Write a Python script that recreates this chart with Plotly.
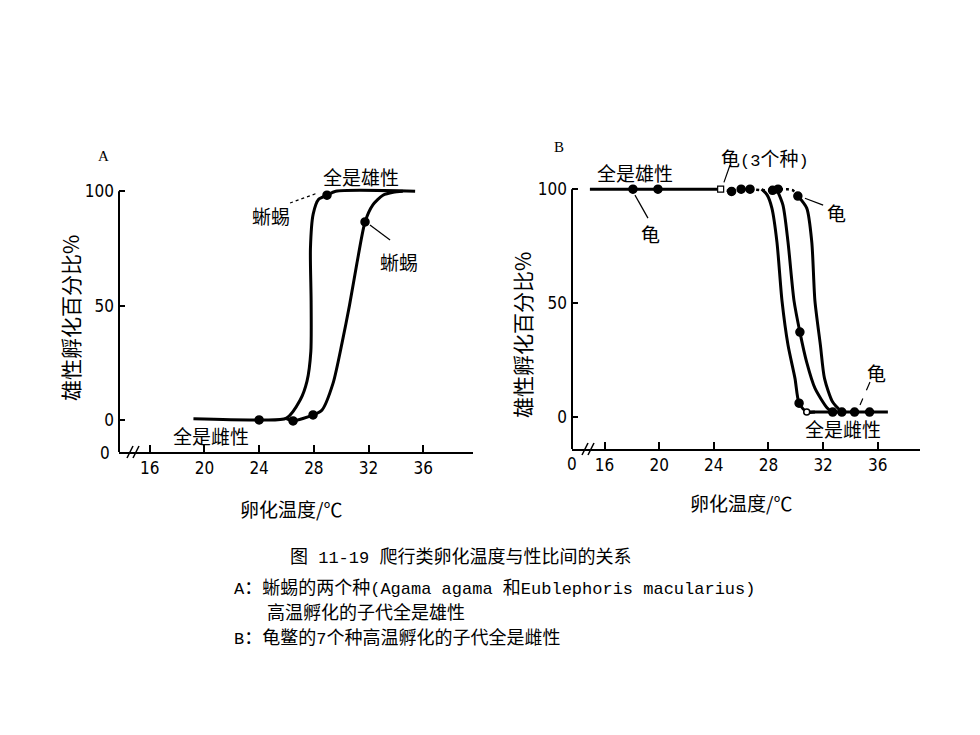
import plotly.graph_objects as go

# page is 980x735; plotly div sits at the default 8px body margin
OFF = 8
FW, FH = 980 - 2 * OFF, 735 - 2 * OFF

# ---------------- data ----------------
x_ticks = [16, 20, 24, 28, 32, 36]
y_ticks = [0, 50, 100]

# Panel A (lizards)
a_c1_T = [19.2, 24.0, 26.0, 27.0, 27.5, 27.78, 27.8, 27.75, 27.95, 28.35, 28.96, 29.6, 35.4]
a_c1_v = [0.5, 0.0, 0.8, 8.7, 17.0, 30.0, 52.0, 75.0, 90.0, 96.5, 98.3, 100, 100]
a_c2_T = [26.0, 26.48, 27.94, 28.6, 29.4, 30.06, 30.6, 31.15, 31.74, 32.3, 33.05, 33.8, 34.5]
a_c2_v = [0.6, -0.4, 2.2, 4.4, 16.0, 33.7, 50.0, 68.6, 86.6, 94.0, 98.3, 99.6, 100]
a_dot_T = [24.0, 26.48, 27.94, 28.96, 31.74]
a_dot_v = [0.0, -0.4, 2.2, 98.3, 86.6]

# Panel B (turtles)
b_top_T = [14.93, 24.5]
b_top_v = [100, 100]
b_mid_T = [24.5, 25.3, 26.0, 26.65, 27.5, 28.3, 28.7, 29.4, 29.8, 30.15]
b_mid_v = [100, 99.0, 100, 100, 99.5, 99.5, 100, 100, 99.5, 97.0]
b_c1_T = [27.5, 27.9, 28.25, 28.62, 28.99, 29.43, 29.94, 30.24, 30.8, 31.4]
b_c1_v = [100, 97.5, 91.7, 76.8, 51.0, 31.6, 17.0, 6.1, 2.2, 2.2]
b_c2_T = [28.6, 29.06, 29.43, 29.87, 30.3, 30.8, 31.4, 32.3, 32.7]
b_c2_v = [100, 93.0, 76.8, 51.0, 37.3, 24.0, 12.7, 4.0, 2.2]
b_c3_T = [30.15, 30.8, 31.17, 31.4, 31.8, 32.1, 32.7, 33.37]
b_c3_v = [97.0, 91.7, 76.8, 51.0, 31.6, 17.0, 6.6, 2.2]
b_floor_T = [30.8, 36.74]
b_floor_v = [2.2, 2.2]
b_dot_T = [18.08, 19.91, 25.3, 26.0, 26.65, 28.3, 28.7, 30.15, 30.24, 30.3, 32.7, 33.37, 34.3, 35.4]
b_dot_v = [100, 100, 99.0, 100, 100, 99.5, 100, 97.0, 6.1, 37.3, 2.2, 2.2, 2.2, 2.2]
b_open_sq_T = [24.5]
b_open_sq_v = [100]
b_open_c_T = [30.8]
b_open_c_v = [2.2]


def PX(x):
    return (x - OFF) / FW


def PY(y):
    return 1 - (y - OFF) / FH


def P(x, y):
    return PX(x), PY(y)


# ---------------- layout geometry (page pixels) ----------------
A_DX = (PX(119), PX(473)); A_RX = (13.76, 39.63)
A_DY = (PY(452), PY(157)); A_RY = (-14, 115)
B_DX = (PX(572), PX(920)); B_RX = (13.62, 39.09)
B_DY = (PY(449), PY(155)); B_RY = (-14, 115)


def to_paper(panel, T, v):
    dx, rx, dy, ry = (A_DX, A_RX, A_DY, A_RY) if panel == "A" else (B_DX, B_RX, B_DY, B_RY)
    px_ = dx[0] + (T - rx[0]) / (rx[1] - rx[0]) * (dx[1] - dx[0])
    py_ = dy[0] + (v - ry[0]) / (ry[1] - ry[0]) * (dy[1] - dy[0])
    return px_, py_


CJK = "Noto Sans CJK SC"
MONO = "Liberation Mono, DejaVu Sans Mono, monospace"
NUM = "Liberation Sans Narrow, DejaVu Sans Condensed, Noto Sans"
LW = 3

fig = go.Figure()


def line(xs, ys, xa, ya, width=LW, dash="solid", smooth=0.7):
    fig.add_trace(go.Scatter(x=xs, y=ys, xaxis=xa, yaxis=ya, mode="lines",
                             line=dict(color="black", width=width, dash=dash,
                                       shape="spline", smoothing=smooth),
                             hoverinfo="skip", showlegend=False))


def dots(xs, ys, xa, ya, symbol="circle", size=8):
    fig.add_trace(go.Scatter(x=xs, y=ys, xaxis=xa, yaxis=ya, mode="markers",
                             marker=dict(color="black", size=size, symbol=symbol,
                                         line=dict(color="black", width=1.5)),
                             cliponaxis=False, hoverinfo="skip", showlegend=False))


# Panel A
line(a_c1_T, a_c1_v, "x", "y")
line(a_c2_T, a_c2_v, "x", "y")
dots(a_dot_T, a_dot_v, "x", "y")

# Panel B
line(b_top_T, b_top_v, "x2", "y2", smooth=0)
line(b_mid_T, b_mid_v, "x2", "y2", width=2.5, dash="dot", smooth=0)
line(b_c1_T, b_c1_v, "x2", "y2")
line(b_c2_T, b_c2_v, "x2", "y2")
line(b_c3_T, b_c3_v, "x2", "y2")
line(b_floor_T, b_floor_v, "x2", "y2", smooth=0)
dots(b_dot_T, b_dot_v, "x2", "y2")
fig.add_trace(go.Scatter(x=b_open_sq_T, y=b_open_sq_v, xaxis="x2", yaxis="y2", mode="markers",
                         marker=dict(color="white", size=6, symbol="square",
                                     line=dict(color="black", width=1.2)),
                         cliponaxis=False, hoverinfo="skip", showlegend=False))
fig.add_trace(go.Scatter(x=b_open_c_T, y=b_open_c_v, xaxis="x2", yaxis="y2", mode="markers",
                         marker=dict(color="white", size=6, symbol="circle",
                                     line=dict(color="black", width=1.5)),
                         cliponaxis=False, hoverinfo="skip", showlegend=False))

xcommon = dict(showline=True, linecolor="black", linewidth=2, ticks="inside", ticklen=7,
               tickwidth=1.5, tickcolor="black", tickvals=x_ticks, showgrid=False,
               zeroline=False, tickfont=dict(family=NUM, size=17, color="black"),
               fixedrange=True)
ycommon = dict(showline=False, ticks="inside", ticklen=6, tickwidth=1.5, tickcolor="black",
               tickvals=y_ticks, showgrid=False, zeroline=False, ticklabelstandoff=4,
               tickfont=dict(family=NUM, size=17, color="black"), fixedrange=True)

fig.update_layout(
    width=FW, height=FH, margin=dict(l=0, r=0, t=0, b=0),
    paper_bgcolor="white", plot_bgcolor="white", showlegend=False,
    xaxis=dict(domain=list(A_DX), range=list(A_RX), anchor="y", **xcommon),
    yaxis=dict(domain=list(A_DY), range=list(A_RY), anchor="x", **ycommon),
    xaxis2=dict(domain=list(B_DX), range=list(B_RX), anchor="y2", **xcommon),
    yaxis2=dict(domain=list(B_DY), range=list(B_RY), anchor="x2", **ycommon),
)

shapes = []
# y axis lines from bottom to 100
for pan, rx, ry in (("A", A_RX, A_RY), ("B", B_RX, B_RY)):
    x0, y0 = to_paper(pan, rx[0], ry[0])
    x1, y1 = to_paper(pan, rx[0], 100)
    shapes.append(dict(type="line", xref="paper", yref="paper", x0=x0, y0=y0, x1=x1, y1=y1,
                       line=dict(color="black", width=2)))
# axis break marks
for (bx, by) in ((130, 452), (136, 452), (585, 449), (591, 449)):
    xa, ya = P(bx - 3, by + 6)
    xb, yb = P(bx + 3, by - 6)
    shapes.append(dict(type="line", xref="paper", yref="paper", x0=xa, y0=ya, x1=xb, y1=yb,
                       line=dict(color="black", width=1.5)))
# leader lines (data space -> paper)
leaders = [
    ("A", 26.26, 94.9, 28.3, 99.3, "dot"),
    ("A", 32.1, 85.3, 33.57, 78.7, "solid"),
    ("B", 18.23, 97.4, 19.18, 87.3, "solid"),
    ("B", 25.18, 110.5, 24.74, 103.0, "solid"),
    ("B", 30.67, 96.0, 32.0, 93.0, "solid"),
    ("B", 35.43, 15.4, 34.7, 5.3, "dash"),
]
for pan, t0, v0, t1, v1, d in leaders:
    xa, ya = to_paper(pan, t0, v0)
    xb, yb = to_paper(pan, t1, v1)
    shapes.append(dict(type="line", xref="paper", yref="paper", x0=xa, y0=ya, x1=xb, y1=yb,
                       line=dict(color="black", width=1.2, dash=d)))
fig.update_layout(shapes=shapes)

ann = []


def txt(text, x, y, size=19, xref="x", yref="y", xanchor="center", family=CJK, angle=0):
    ann.append(dict(text=text, x=x, y=y, xref=xref, yref=yref, xanchor=xanchor,
                    yanchor="middle", showarrow=False, textangle=angle,
                    font=dict(family=family, size=size, color="black")))


M = "<span style='font-family:Liberation Mono, DejaVu Sans Mono, monospace; font-size:17px'>"
E = "</span>"

# Panel A labels
txt("全是雄性", 31.45, 106.3)
txt("蜥蜴", 24.87, 89.6)
txt("蜥蜴", 34.22, 69.1)
txt("全是雌性", 20.48, -6.6)
# Panel B labels
txt("全是雄性", 18.23, 107.5, xref="x2", yref="y2")
txt("龟", 19.4, 80.7, xref="x2", yref="y2")
txt("龟" + M + "(3" + E + "个种" + M + ")" + E, 24.37, 114.0, xref="x2", yref="y2",
    xanchor="left")
txt("龟", 33.0, 89.9, xref="x2", yref="y2")
txt("龟", 35.94, 19.7, xref="x2", yref="y2")
txt("全是雌性", 33.44, -4.8, xref="x2", yref="y2")


# paper-level texts (page pixel positions)
def ptxt(text, x, y, **kw):
    px_, py_ = P(x, y)
    txt(text, px_, py_, xref="paper", yref="paper", **kw)


ptxt("A", 103, 156, size=15, family="Liberation Serif")
ptxt("B", 559, 147, size=15, family="Liberation Serif")
ptxt("0", 112, 453, size=17, family=NUM, xanchor="right")
ptxt("0", 572, 464, size=17, family=NUM)
ptxt("雄性孵化百分比%", 70, 318, size=21, angle=-90)
ptxt("雄性孵化百分比%", 522, 335, size=21, angle=-90)
ptxt("卵化温度/℃", 291, 508, size=19)
ptxt("卵化温度/℃", 741, 502, size=19)

CS = 18
ptxt("图" + M + " 11-19 " + E + "爬行类卵化温度与性比间的关系", 288, 555, xanchor="left", size=CS)
ptxt(M + "A" + E + "：蜥蜴的两个种" + M + "(Agama agama " + E + "和" + M + "Eublephoris macularius)" + E,
     232, 586, xanchor="left", size=CS)
ptxt("高温孵化的子代全是雄性", 265, 611, xanchor="left", size=CS)
ptxt(M + "B" + E + "：龟鳖的" + M + "7" + E + "个种高温孵化的子代全是雌性", 232, 636, xanchor="left", size=CS)

fig.update_layout(annotations=ann)
fig.write_html("out.html")
